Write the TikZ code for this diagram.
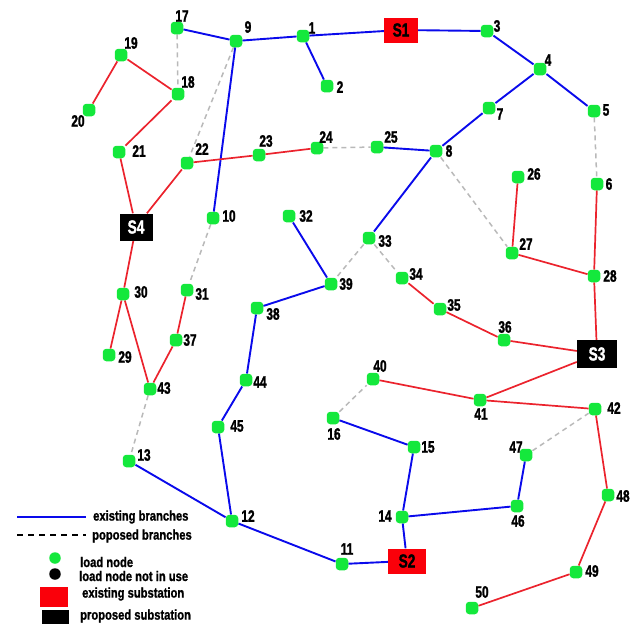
\documentclass[tikz,border=0pt]{standalone}
\usepackage{fontspec}
\setmainfont{Liberation Sans}[BoldFont={Liberation Sans Bold},BoldFeatures={FakeBold=1.6},FakeStretch=0.72]
\newfontfamily\legfont{Liberation Sans Bold}[FakeStretch=0.8,FakeBold=1.2]
\usetikzlibrary{backgrounds}
\definecolor{ngreen}{RGB}{20,232,60}
\definecolor{eblue}{RGB}{10,10,235}
\definecolor{ered}{RGB}{235,35,45}
\definecolor{pgray}{RGB}{185,185,185}
\definecolor{sred}{RGB}{250,0,10}
\begin{document}
\begin{tikzpicture}[x=1pt,y=-1pt,
  load/.style={rectangle,rounded corners=3.5pt,fill=ngreen,minimum size=12.5pt,inner sep=0pt},
  lbl/.style={font=\fontsize{16.5}{16.5}\selectfont\bfseries,inner sep=0pt},
  subst/.style={rectangle,inner sep=0pt,font=\fontsize{19}{19}\selectfont\bfseries},
  exist/.style={draw=eblue,line width=1.9pt},
  red/.style={draw=ered,line width=1.7pt},
  prop/.style={draw=pgray,line width=1.5pt,dash pattern=on 5pt off 4pt},
  leg/.style={font=\legfont\fontsize{14}{14}\selectfont,inner sep=0pt,anchor=west}]
\useasboundingbox (0,0) rectangle (639,624);
\foreach \n/\x/\y/\lx/\ly in {
 1/303/36/312/28, 2/327/86/340/87, 3/487/31/497/26, 4/540/69/548/60,
 5/594/111/606/110, 6/597/184/609/184, 7/489/108/500/114, 8/436/151/449/151,
 9/236/41/248/27, 10/213/218/229/216, 11/342/564/347/549, 12/232/521/248/516,
 13/129/461/144/455, 14/402/517/385/516, 15/414/447/428/447, 16/333/418/334/434,
 17/177/28/182/16, 18/178/94/188/82, 19/121/55/131/43, 20/89/110/78/121,
 21/119/152/139/151, 22/187/163/202/149, 23/259/155/266/141, 24/317/148/326/137,
 25/377/147/391/137, 26/518/177/534/174, 27/512/253/526/244, 28/594/276/610/276,
 29/109/355/125/357, 30/123/294/141/292, 31/187/290/202/294, 32/289/216/306/216,
 33/369/238/385/241, 34/402/278/416/274, 35/440/309/454/305, 36/504/340/505/327,
 37/176/340/190/340, 38/257/308/273/314, 39/331/284/346/284, 40/373/379/380/366,
 41/480/400/481/414, 42/595/409/614/408, 43/150/389/164/388, 44/246/380/260/382,
 45/218/427/237/426, 46/517/506/518/521, 47/526/455/516/447, 48/608/495/623/496,
 49/576/572/592/571, 50/472/608/482/592}
{
  \node[load] (n\n) at (\x,\y) {};
  \node[lbl] (l\n) at (\lx,\ly) {\n};
}
\node[subst,fill=sred,minimum width=34pt,minimum height=25pt] (S1) at (401,30) {S1};
\node[subst,fill=sred,minimum width=38pt,minimum height=25pt] (S2) at (407,561) {S2};
\node[subst,fill=black,text=white,minimum width=40pt,minimum height=28pt] (S3) at (597,354) {S3};
\node[subst,fill=black,text=white,minimum width=33pt,minimum height=27pt] (S4) at (136,227) {S4};
\begin{scope}[on background layer]
% existing branches
\foreach \a/\b in {n17/n9, n9/n1, n1/S1, S1/n3, n1/n2, n3/n4, n4/n5, n4/n7, n7/n8,
  n25/n8, n8/n33, n9/n10, n32/n39, n39/n38, n38/n44, n44/n45, n45/n12, n13/n12,
  n12/n11, n11/S2, S2/n14, n14/n15, n15/n16, n14/n46, n46/n47}
  \draw[exist] (\a) -- (\b);
% red branches
\foreach \a/\b in {n19/n18, n19/n20, n18/n21, n21/S4, S4/n22, n22/n23, n23/n24,
  S4/n30, n30/n29, n30/n43, n43/n37, n37/n31, n26/n27, n27/n28, n6/n28, n28/S3,
  n34/n35, n35/n36, n36/S3, S3/n41, n40/n41, n41/n42, n42/n48, n48/n49, n49/n50}
  \draw[red] (\a) -- (\b);
% proposed branches
\foreach \a/\b in {n17/n18, n9/n22, n24/n25, n5/n6, n8/n27, n33/n39, n33/n34,
  n10/n31, n43/n13, n16/n40, n47/n42}
  \draw[prop] (\a) -- (\b);
\end{scope}
% legend
\coordinate (la1) at (17,517); \coordinate (la2) at (86,517);
\coordinate (lb1) at (17,535); \coordinate (lb2) at (86,535);
\draw[eblue,line width=1.5pt] (la1) -- (la2);
\draw[black,line width=1.3pt,dash pattern=on 6pt off 5pt] (lb1) -- (lb2);
\node[leg] (t1) at (93,517) {existing branches};
\node[leg] (t2) at (92,536) {poposed branches};
\node[circle,fill=ngreen,minimum size=11.5pt,inner sep=0pt] (g1) at (55,558) {};
\node[leg] (t3) at (80,562) {load node};
\node[circle,fill=black,minimum size=11.5pt,inner sep=0pt] (g2) at (55,574) {};
\node[leg] (t4) at (79,576) {load node not in use};
\node[rectangle,fill=sred,minimum width=28pt,minimum height=20pt,inner sep=0pt] (g3) at (54,597) {};
\node[leg] (t5) at (82,594) {existing substation};
\node[rectangle,fill=black,minimum width=27pt,minimum height=14pt,inner sep=0pt] (g4) at (55.5,617) {};
\node[leg] (t6) at (80,616) {proposed substation};
\end{tikzpicture}
\end{document}
